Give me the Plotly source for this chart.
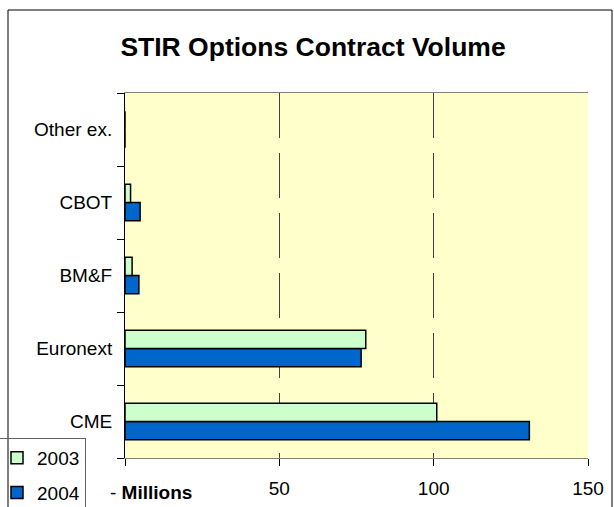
import plotly.graph_objects as go

categories = ["CME", "Euronext", "BM&F", "CBOT", "Other ex."]
vol_2003 = [101, 78, 2.3, 1.8, 0]
vol_2004 = [131, 76.5, 4.5, 4.9, 0]
tick_vals = [0, 50, 100, 150]
tick_text = ["", "50", "100", "150"]

W, H = 614, 507
L, R, T, B = 125, 588, 93, 458

def px_x(px):
    return (px - L) / (R - L)

def px_y(py):
    return (B - py) / (B - T)

FONT = "Arial, Liberation Sans"

fig = go.Figure()
fig.add_trace(go.Bar(
    y=categories, x=vol_2004, name="2004", orientation="h",
    marker=dict(color="#0066CC", line=dict(color="black", width=1.5)),
    legendrank=2, legendgroup="b"))
fig.add_trace(go.Bar(
    y=categories, x=vol_2003, name="2003", orientation="h",
    marker=dict(color="#CCFFCC", line=dict(color="black", width=1.5)),
    legendrank=1, legendgroup="a"))

fig.update_layout(
    width=W, height=H,
    margin=dict(l=L, r=W - R, t=T, b=H - B, pad=0, autoexpand=False),
    paper_bgcolor="white",
    plot_bgcolor="#FFFFCC",
    barmode="group", bargap=0.5, bargroupgap=0,
    font=dict(family=FONT, size=19, color="black"),
    title=dict(text="<b>STIR Options Contract Volume</b>", x=px_x(313), xref="paper",
               xanchor="center", y=1 - 47 / H, yanchor="middle",
               font=dict(size=26.5, family=FONT, color="black")),
    xaxis=dict(range=[0, 150], tickvals=tick_vals, ticktext=tick_text,
               showgrid=True, gridcolor="#404040", gridwidth=1, griddash="45px,15px",
               showline=True, linecolor="#808080", linewidth=1, mirror=True,
               ticks="outside", ticklen=7, tickcolor="black", automargin=False,
               zeroline=False, tickfont=dict(size=19), ticklabelstandoff=6),
    yaxis=dict(categoryorder="array", categoryarray=categories,
               showline=True, linecolor="black", linewidth=1, automargin=False,
               ticks="outside", ticklen=7, tickcolor="black", tickson="boundaries",
               showgrid=False, tickfont=dict(size=19), ticklabelstandoff=8),
    showlegend=True,
    legend=dict(x=px_x(-4), y=px_y(438), xanchor="left", yanchor="top",
                bordercolor="#606060", borderwidth=1, bgcolor="rgba(0,0,0,0)",
                font=dict(size=19), tracegroupgap=7, itemwidth=30),
)

# zero-tick label and display-unit label
fig.add_annotation(text="- <b>Millions</b>", x=px_x(108), y=px_y(492), xref="paper", yref="paper",
                   xanchor="left", yanchor="middle", showarrow=False,
                   font=dict(size=19, color="black"))

# outer chart border
fig.add_shape(type="rect", xref="paper", yref="paper",
              x0=px_x(8), x1=px_x(612), y0=px_y(520), y1=px_y(10),
              line=dict(color="black", width=1), layer="below")

fig.write_html("out.html", config={"displayModeBar": False},
               post_script="document.body.style.margin='0';document.body.style.padding='0';")
